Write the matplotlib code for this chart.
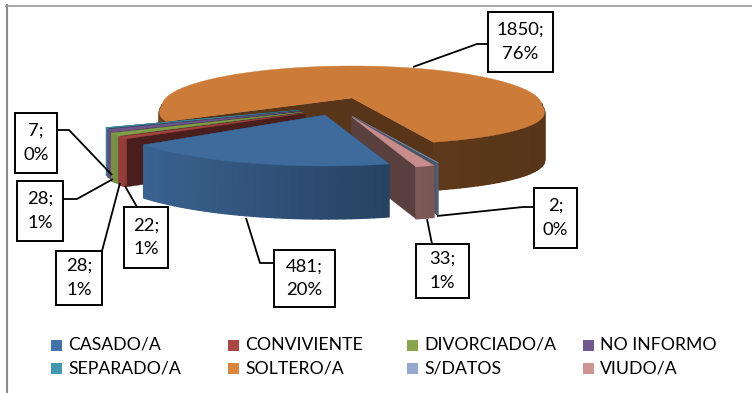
import matplotlib
matplotlib.use('Agg')
import matplotlib.pyplot as plt
from matplotlib.patches import Polygon, Rectangle
import numpy as np

plt.rcParams['font.family'] = ['Lato', 'DejaVu Sans']

categories = ["CASADO/A", "CONVIVIENTE", "DIVORCIADO/A", "NO INFORMO",
              "SEPARADO/A", "SOLTERO/A", "S/DATOS", "VIUDO/A"]
values = [481, 22, 28, 28, 7, 1850, 2, 33]
percents = [20, 1, 1, 1, 0, 76, 0, 1]
colors = ["#4372A8", "#AA4643", "#89A54E", "#71588F",
          "#4198AF", "#DB843D", "#93A9CF", "#D19392"]

# pixel layout of the exploded slices:
# apex x, apex y, rx, rx growth, ry front, wall height, arc centre below apex
slice_geom = {
    "CASADO/A": (325, 115, 224, 0, 51, 53, 0),
    "CONVIVIENTE": (305, 113, 221, 0, 44, 48, 0),
    "DIVORCIADO/A": (303, 112, 218, 0, 44, 48, 0),
    "NO INFORMO": (301, 111, 212, 0, 44, 48, 0),
    "SEPARADO/A": (300, 110, 211, 0, 44, 48, 0),
    "SOLTERO/A": (352, 98, 190, 32, 39, 48, 8),
    "S/DATOS": (352, 116, 232, 0, 50, 52, 0),
    "VIUDO/A": (352, 117, 224, 0, 52, 52, 0),
}
# top, outer wall left, outer wall right, side wall brightness
slice_shade = {
    "CASADO/A": (0.93, 0.86, 0.58, 0.5),
    "CONVIVIENTE": (0.95, 0.88, 0.85, 0.43),
    "DIVORCIADO/A": (0.95, 0.88, 0.85, 0.43),
    "NO INFORMO": (0.95, 0.88, 0.85, 0.43),
    "SEPARADO/A": (0.95, 0.88, 0.85, 0.43),
    "SOLTERO/A": (0.93, 0.5, 0.4, 0.4),
    "S/DATOS": (0.8, 0.55, 0.55, 0.5),
    "VIUDO/A": (0.95, 0.6, 0.58, 0.43),
}
# label boxes: x0, y0, x1, y1 and leader line points
label_boxes = {
    "CASADO/A": ((274, 250, 335, 307), [(246, 218), (260, 263), (274, 263)]),
    "CONVIVIENTE": ((124, 207, 168, 268), [(125, 186), (137, 207)]),
    "DIVORCIADO/A": ((56, 251, 102, 305), [(120, 183), (102, 251)]),
    "NO INFORMO": ((17, 181, 63, 241), [(113, 179), (77, 199), (63, 199)]),
    "SEPARADO/A": ((15, 113, 57, 173), [(112, 175), (69, 130), (57, 130)]),
    "SOLTERO/A": ((488, 12, 553, 72), [(413, 67), (477, 44), (488, 44)]),
    "S/DATOS": ((534, 188, 577, 248), [(437, 216), (523, 207), (534, 207)]),
    "VIUDO/A": ((416, 244, 469, 298), [(427, 219), (432, 244)]),
}


def shade(color, f):
    return tuple(c * f for c in matplotlib.colors.to_rgb(color))


def arc_points(geom, a0, a1):
    # a0 > a1, angles in degrees, going clockwise
    ax0, ay0, rx, grow, ry_front, _, dy = geom
    n = max(2, int(abs(a0 - a1) / 2) + 2)
    t = np.radians(np.linspace(a0, a1, n))
    u, v = np.cos(t), np.sin(t)
    ry_back = 40
    xs = ax0 + u * (rx + grow * np.maximum(-v, 0))
    ys = ay0 + dy - v * np.where(v >= 0, ry_back, ry_front)
    return xs, ys


def draw_slice(ax, name, color, a0, a1):
    geom = slice_geom[name]
    f_top, f_left, f_right, f_side = slice_shade[name]
    ax0, ay0, h = geom[0], geom[1], geom[5]
    xs, ys = arc_points(geom, a0, a1)
    side = shade(color, f_side)
    for x, y in [(xs[0], ys[0]), (xs[-1], ys[-1])]:
        ax.add_patch(Polygon([(ax0, ay0), (x, y), (x, y + h), (ax0, ay0 + h)],
                             facecolor=side, edgecolor=side, linewidth=0.3))
    # outer wall in strips, only where it faces the viewer
    x_min, x_max = xs.min(), xs.max()
    for i in range(len(xs) - 1):
        if np.sin(np.radians(a0 + (a1 - a0) * (i + 0.5) / (len(xs) - 1))) > 0.05:
            continue
        m = (0.5 * (xs[i] + xs[i + 1]) - x_min) / max(x_max - x_min, 1)
        c = shade(color, f_left + (f_right - f_left) * m)
        ax.add_patch(Polygon([(xs[i], ys[i]), (xs[i + 1], ys[i + 1]),
                              (xs[i + 1], ys[i + 1] + h), (xs[i], ys[i] + h)],
                             facecolor=c, edgecolor=c, linewidth=1.0, joinstyle="round"))
    top = shade(color, f_top)
    ax.add_patch(Polygon(np.vstack([[ax0, ay0], np.column_stack([xs, ys])]),
                         facecolor=top, edgecolor=top, linewidth=0.3))


fig = plt.figure(figsize=(7.52, 3.93), dpi=100)
ax = fig.add_axes([0, 0, 1, 1])
ax.set_xlim(0, 752)
ax.set_ylim(393, 0)
ax.axis("off")

# chart frame, only the left and top edges show in the crop
ax.plot([6.8, 6.8], [5, 393], color="#8C8C8C", linewidth=1.5)
ax.plot([6, 752], [5.7, 5.7], color="#969696", linewidth=1.2)

# angles come from the values, going clockwise from the first slice
total = sum(values)
start_angle = 286.6
spans = [v / total * 360 for v in values]
edges = start_angle - np.concatenate([[0], np.cumsum(spans)])

draw_order = [5, 6, 7, 4, 3, 2, 1, 0]
for i in draw_order:
    draw_slice(ax, categories[i], colors[i], edges[i], edges[i + 1])

for i, name in enumerate(categories):
    (x0, y0, x1, y1), line = label_boxes[name]
    lx, ly = zip(*line)
    ax.plot(lx, ly, color="black", linewidth=1.3, solid_capstyle="butt", zorder=6)
    ax.add_patch(Rectangle((x0, y0), x1 - x0, y1 - y0, facecolor="white",
                           edgecolor="black", linewidth=1.4, zorder=7))
    ax.text((x0 + x1) / 2, (y0 + y1) / 2, f"{values[i]};\n{percents[i]}%", ha="center", va="center",
            fontsize=13.3, color="black", linespacing=1.6, zorder=8)

# legend, two rows of four
legend_x = [51, 228, 407, 583]
legend_y = [345, 368]
for i, name in enumerate(categories):
    lx = legend_x[i % 4]
    ly = legend_y[i // 4]
    ax.add_patch(Rectangle((lx, ly - 5.5), 11, 11, facecolor=colors[i], edgecolor="none"))
    ax.text(lx + 17, ly, name, ha="left", va="center", fontsize=12.7, color="black")

plt.savefig("out.png", dpi=100)
plt.close()
